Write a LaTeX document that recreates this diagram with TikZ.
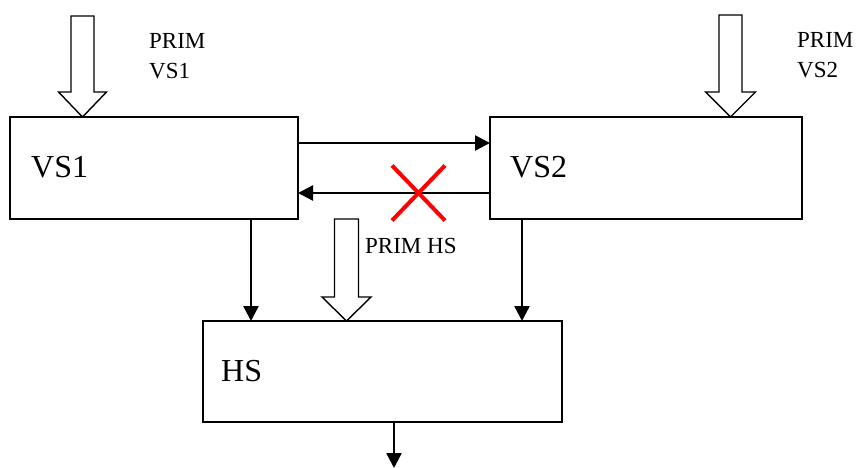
\documentclass[tikz,border=0pt]{standalone}
\usepackage{fontspec}
\setmainfont{Liberation Serif}
\usetikzlibrary{arrows.meta,shapes.misc}
\begin{document}
\begin{tikzpicture}[x=1pt,y=-1pt,
  box/.style={draw,line width=1.6pt,inner sep=0pt,outer sep=0pt},
  arr/.style={line width=2.4pt,-{Triangle[length=15pt,width=15pt]}},
  blockarrow/.style={draw,line width=1.4pt,fill=white,line join=miter},
  big/.style={anchor=base west,inner sep=0pt,font=\fontsize{32}{36}\selectfont},
  small/.style={anchor=base west,inner sep=0pt,align=left,font=\fontsize{23}{30}\selectfont}]
\useasboundingbox (0,0) rectangle (859,468);
% boxes
\node[box,minimum width=288pt,minimum height=102pt] (vs1) at (154,168) {};
\node[box,minimum width=312pt,minimum height=102pt] (vs2) at (646,168) {};
\node[box,minimum width=359pt,minimum height=101pt] (hs) at (382.5,371.5) {};
% box labels
\node[big] (lvs1) at (31,177) {VS1};
\node[big] (lvs2) at (510,177) {VS2};
\node[big] (lhs) at (221,381) {HS};
% side labels (base = last line)
\node[small] (pvs1) at (149,79) {PRIM\\VS1};
\node[small] (pvs2) at (797,78) {PRIM\\VS2};
\node[small] (phs) at (365,253) {PRIM HS};
% block arrows
\draw[blockarrow] (71,16) -- (94,16) -- (94,92) -- (106.5,92) -- (82.5,117) -- (58.5,92) -- (71,92) -- cycle;
\draw[blockarrow] (719,15) -- (742,15) -- (742,92) -- (755.5,92) -- (730.5,117) -- (705.5,92) -- (719,92) -- cycle;
\draw[blockarrow] (334.5,219) -- (358.5,219) -- (358.5,297) -- (371,297) -- (346.5,321) -- (322,297) -- (334.5,297) -- cycle;
% connectors
\draw[arr] ([yshift=-26pt]vs1.north east) -- ([yshift=-26pt]vs2.north west);
\draw[arr] ([yshift=-76pt]vs2.north west) -- ([yshift=-76pt]vs1.north east);
\draw[arr] ([xshift=241pt]vs1.south west) -- ([xshift=48pt]hs.north west);
\draw[arr] ([xshift=32pt]vs2.south west) -- ([xshift=319pt]hs.north west);
\coordinate (out) at (394,468);
\draw[arr] ([xshift=191pt]hs.south west) -- (out);
% cross
\node[cross out,draw=red,line width=4pt,minimum width=49pt,minimum height=51pt,inner sep=0pt] (x) at (418.5,193) {};
\end{tikzpicture}
\end{document}
